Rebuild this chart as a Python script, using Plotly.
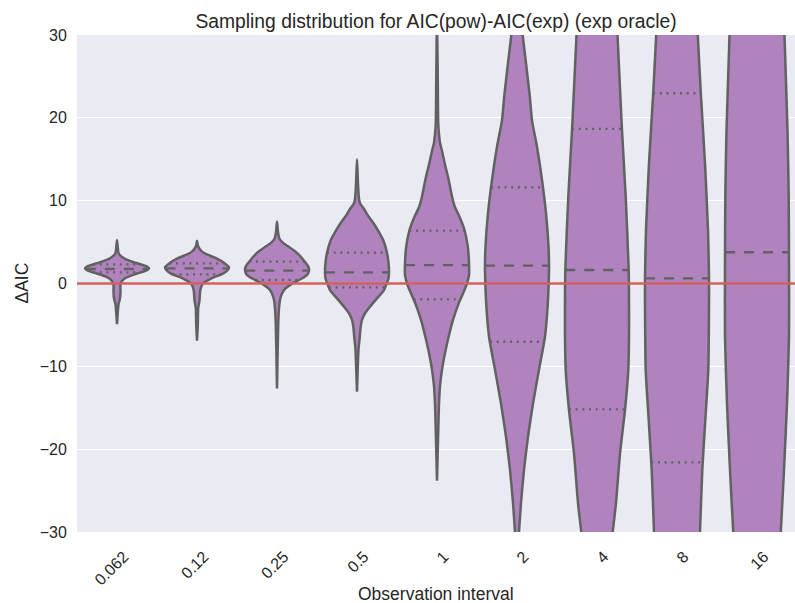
import numpy as np
import plotly.graph_objects as go

# ---------------- data ----------------
categories = ["0.062", "0.12", "0.25", "0.5", "1", "2", "4", "8", "16"]

# Kernel-density outline of each violin: value levels (top -> bottom) and
# relative density at each level (largest density of the chart = 32).
v0_levels = [5.25, 4.3, 3.7, 3.3, 2.9, 2.6, 2.3, 2.05, 1.85, 1.6, 1.35, 1.05, 0.7, 0.3, -0.2, -1.0, -1.8, -2.5, -3.5, -4.9]
v0_dens = [0, 0.8, 1.5, 4, 9, 16, 24, 30, 32, 30, 24, 16, 9, 5, 3.5, 3.5, 3, 1.5, 0.8, 0]

v1_levels = [5.17, 4.6, 4.2, 3.9, 3.65, 3.05, 2.45, 1.95, 1.6, 1.2, 0.6, 0.0, -0.8, -2.0, -3.0, -5.0, -6.9]
v1_dens = [0, 0.8, 2.5, 4.5, 7.5, 19, 27.5, 32, 30.5, 26, 14, 6, 3.3, 2.5, 1.2, 0.8, 0]

v2_levels = [7.47, 6.2, 5.4, 4.9, 4.5, 3.9, 3.2, 2.6, 2.1, 1.7, 1.2, 0.75, 0.3, -0.1, -0.6, -1.2, -2.0, -3.0, -5.0, -12.66]
v2_dens = [0, 1, 2.5, 6, 11, 18, 24, 28, 31, 32, 31, 27, 20, 14, 8.5, 5, 3, 2, 1.2, 0]

v3_levels = [15.0, 12.0, 10.2, 9.7, 9.0, 8.2, 7.27, 6.3, 5.3, 3.7, 2.5, 1.3, 0.6, -0.2, -0.8, -1.8, -2.8, -3.6, -4.4, -5.4, -6.4, -8.0, -13.07]
v3_dens = [0, 1, 2, 3, 7, 11, 16.5, 21.5, 26, 30, 31.5, 32, 31.5, 29, 27, 20, 13, 8, 5, 3.5, 2.8, 1.5, 0]

v4_levels = [33, 24, 19.5, 18.0, 17.0, 16.0, 14.5, 12.5, 10.5, 9.2, 8.07, 6.46, 4.45, 2.44, 1.0, 0, -1.2, -2.4, -4.4, -6.4, -8.4, -10.4, -12.4, -14.5, -18, -23.8]
v4_dens = [0, 0.8, 1.2, 2, 3, 5, 7.7, 11.7, 15, 18, 22.5, 27.5, 30.8, 32, 32, 30, 26, 21.7, 16, 11.7, 8, 5, 3, 2, 1.2, 0]

v5_levels = [33, 30, 26.6, 22.6, 19.7, 16.5, 12.5, 8.5, 4.5, 2.4, 1.63, -2.4, -6.4, -10.4, -14.5, -18.5, -22.5, -26.5, -30, -33]
v5_dens = [4, 5.7, 9, 12.8, 15, 20, 25, 29, 31.5, 32, 32, 30.8, 28, 22, 16, 11, 7, 4, 2, 0.5]

v6_levels = [33, 30, 18.5, 10.5, 1.63, -2.0, -6.4, -10.4, -15.3, -20.5, -26.5, -30, -33]
v6_dens = [19.5, 20.5, 25, 28.7, 31.7, 32, 32, 31.3, 28, 23, 19, 15.7, 13]

v7_levels = [33, 30, 23, 14.5, 6.46, 0.8, -2.4, -10.4, -16.5, -22.5, -30, -33]
v7_dens = [20, 20.8, 23.8, 28, 31, 32, 32, 31.3, 28.3, 25.3, 23, 22]

v8_levels = [33, 30, 18.5, 10.5, 2.4, -6.4, -14.5, -22.5, -30, -33]
v8_dens = [27, 27.5, 30.5, 31.7, 32, 32, 30, 27, 23.8, 22.5]

q1 = [1.35, 1.1, 0.42, -0.46, -1.91, -7.03, -15.2, -21.6, -38.0]
median = [1.75, 1.83, 1.55, 1.35, 2.23, 2.15, 1.63, 0.62, 3.77]
q3 = [2.3, 2.43, 2.64, 3.72, 6.38, 11.6, 18.66, 22.97, 45.0]

y_ticks = [-30, -20, -10, 0, 10, 20, 30]

# ---------------- styling ----------------
FILL = "#B083BF"
EDGE = "#616161"
RED = "#D65F5F"
BG = "#EAEAF2"
TXT = "#262626"
FONT = "Liberation Sans, Arial, sans-serif"
HALF_WIDTH = 0.4  # half of seaborn's default violin width 0.8

W, H = 795, 603
ML, MR, MT, MB = 77, 0, 35, 71
PH = H - MT - MB

levels = [v0_levels, v1_levels, v2_levels, v3_levels, v4_levels, v5_levels, v6_levels, v7_levels, v8_levels]
dens = [v0_dens, v1_dens, v2_dens, v3_dens, v4_dens, v5_dens, v6_dens, v7_dens, v8_dens]
dmax = max(max(d) for d in dens)

fig = go.Figure()

for i in range(len(categories)):
    ys = np.asarray(levels[i], float)
    ws = np.asarray(dens[i], float) / dmax * HALF_WIDTH
    x = np.concatenate([i - ws, (i + ws)[::-1]])
    y = np.concatenate([ys, ys[::-1]])
    fig.add_trace(go.Scatter(
        x=x, y=y, mode="lines", fill="toself", fillcolor=FILL,
        line=dict(color=EDGE, width=2.5, shape="spline", smoothing=0.6),
        hoverinfo="skip", showlegend=False))
    # quartile lines span the density width at that level
    for q, dash in ((q1[i], "2px,4.7px"), (median[i], "10px,9px"), (q3[i], "2px,4.7px")):
        w = np.interp(q, ys[::-1], ws[::-1])
        fig.add_trace(go.Scatter(
            x=[i - w, i + w], y=[q, q], mode="lines",
            line=dict(color=EDGE, width=2.3, dash=dash),
            hoverinfo="skip", showlegend=False))

# reference line at zero
fig.add_shape(type="line", xref="paper", x0=0, x1=1, yref="y", y0=0, y1=0,
              line=dict(color=RED, width=2.6), layer="above")

# axis titles
fig.add_annotation(text="Observation interval", xref="paper", x=0.5, yref="paper",
                   y=-(594 - (H - MB)) / PH, xanchor="center", yanchor="middle",
                   showarrow=False, font=dict(size=17.5, family=FONT, color=TXT))
fig.add_annotation(text="ΔAIC", xref="paper", x=-(ML - 21) / (W - ML - MR), yref="paper",
                   y=0.5, xanchor="center", yanchor="middle", textangle=-90,
                   showarrow=False, font=dict(size=17.5, family=FONT, color=TXT))

fig.update_layout(
    width=W, height=H,
    margin=dict(l=ML, r=MR, t=MT, b=MB),
    paper_bgcolor="white", plot_bgcolor=BG,
    font=dict(family=FONT, color=TXT, size=16),
    title=dict(text="Sampling distribution for AIC(pow)-AIC(exp) (exp oracle)",
               x=0.5, xref="paper", y=1 - 21 / H, yref="container",
               xanchor="center", yanchor="middle",
               font=dict(size=19.3, color=TXT, family=FONT)),
    showlegend=False,
)
fig.update_xaxes(
    range=[-0.5, len(categories) - 0.525], automargin=False,
    tickmode="array", tickvals=list(range(len(categories))), ticktext=categories,
    tickangle=-45, showgrid=False, zeroline=False, showline=False,
    ticks="outside", ticklen=8, tickcolor="rgba(0,0,0,0)", ticklabelshift=7,
    tickfont=dict(size=16, family=FONT, color=TXT),
)
fig.update_yaxes(
    range=[-30, 30], tickmode="array", tickvals=y_ticks, automargin=False,
    showgrid=True, gridcolor="white", gridwidth=1.3, zeroline=False, showline=False,
    ticks="outside", ticklen=6, tickcolor="rgba(0,0,0,0)",
    tickfont=dict(size=16, family=FONT, color=TXT),
)

fig.write_html("out.html", config={"displayModeBar": False},
               post_script="document.body.style.margin='0';")
